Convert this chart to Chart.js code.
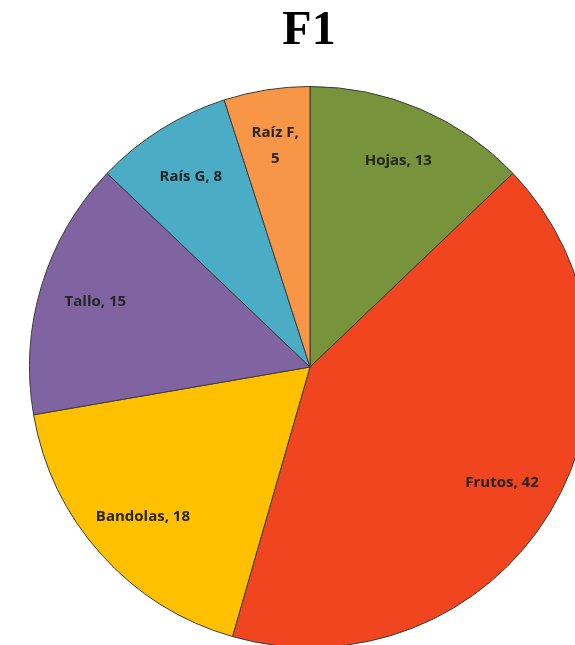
<!DOCTYPE html>
<html>
<head>
<meta charset="utf-8">
<script src="https://cdn.jsdelivr.net/npm/chart.js@4/dist/chart.umd.min.js"></script>
<style>
    html, body { margin: 0; padding: 0; background: #fff; overflow: hidden; }
    #wrap { position: relative; width: 575px; height: 645px; overflow: hidden; }
    #pie { position: absolute; left: 0; top: 0; }
</style>
</head>
<body>
<div id="wrap">
    <canvas id="pie" width="620" height="660"></canvas>
</div>
<script>
// Data
const chartTitle = "F1";
const categories = ["Hojas", "Frutos", "Bandolas", "Tallo", "Raís G", "Raíz F"];
const values = [13, 42, 18, 15, 8, 5];
const sliceColors = ["#77933C", "#F0451F", "#FFC000", "#8064A2", "#4BACC6", "#F79646"];

// -----------------------------
// Title + slice labels
// -----------------------------
const titlePlugin = {
    id: "titleF1",
    afterDraw(chart) {
        const ctx = chart.ctx;
        ctx.save();
        ctx.font = "bold 48px 'Liberation Serif', 'Times New Roman', serif";
        ctx.fillStyle = "#000";
        ctx.textAlign = "center";
        ctx.textBaseline = "middle";
        ctx.fillText(chartTitle, 309, 32);
        ctx.restore();
    }
};

const labelPlugin = {
    id: "sliceLabels",
    afterDatasetsDraw(chart) {
        const ctx = chart.ctx;
        const meta = chart.getDatasetMeta(0);
        ctx.save();
        ctx.font = "bold 15px 'Open Sans', 'Liberation Sans', sans-serif";
        ctx.fillStyle = "#262626";
        ctx.textAlign = "center";
        ctx.textBaseline = "middle";
        meta.data.forEach((arc, i) => {
            const p = arc.getProps(["x", "y", "startAngle", "endAngle", "outerRadius"], true);
            const mid = (p.startAngle + p.endAngle) / 2;
            const r = p.outerRadius * 0.8;
            const x = p.x + Math.cos(mid) * r;
            const y = p.y + Math.sin(mid) * r;
            const text = categories[i] + ", " + values[i];
            const span = (p.endAngle - p.startAngle) * r;
            // narrow slices get the value on a second line
            if (ctx.measureText(text).width > span * 0.8) {
                ctx.fillText(categories[i] + ",", x, y - 13);
                ctx.fillText(String(values[i]), x, y + 13);
            } else {
                ctx.fillText(text, x, y);
            }
        });
        ctx.restore();
    }
};

new Chart(document.getElementById("pie"), {
    type: "pie",
    data: {
        labels: categories,
        datasets: [{
            data: values,
            backgroundColor: sliceColors,
            borderColor: "#3c3c3c",
            borderWidth: 1
        }]
    },
    options: {
        responsive: false,
        animation: false,
        layout: { padding: { left: 29, right: 29, top: 86, bottom: 12 } },
        plugins: {
            legend: { display: false },
            tooltip: { enabled: false }
        }
    },
    plugins: [titlePlugin, labelPlugin]
});
</script>
</body>
</html>
